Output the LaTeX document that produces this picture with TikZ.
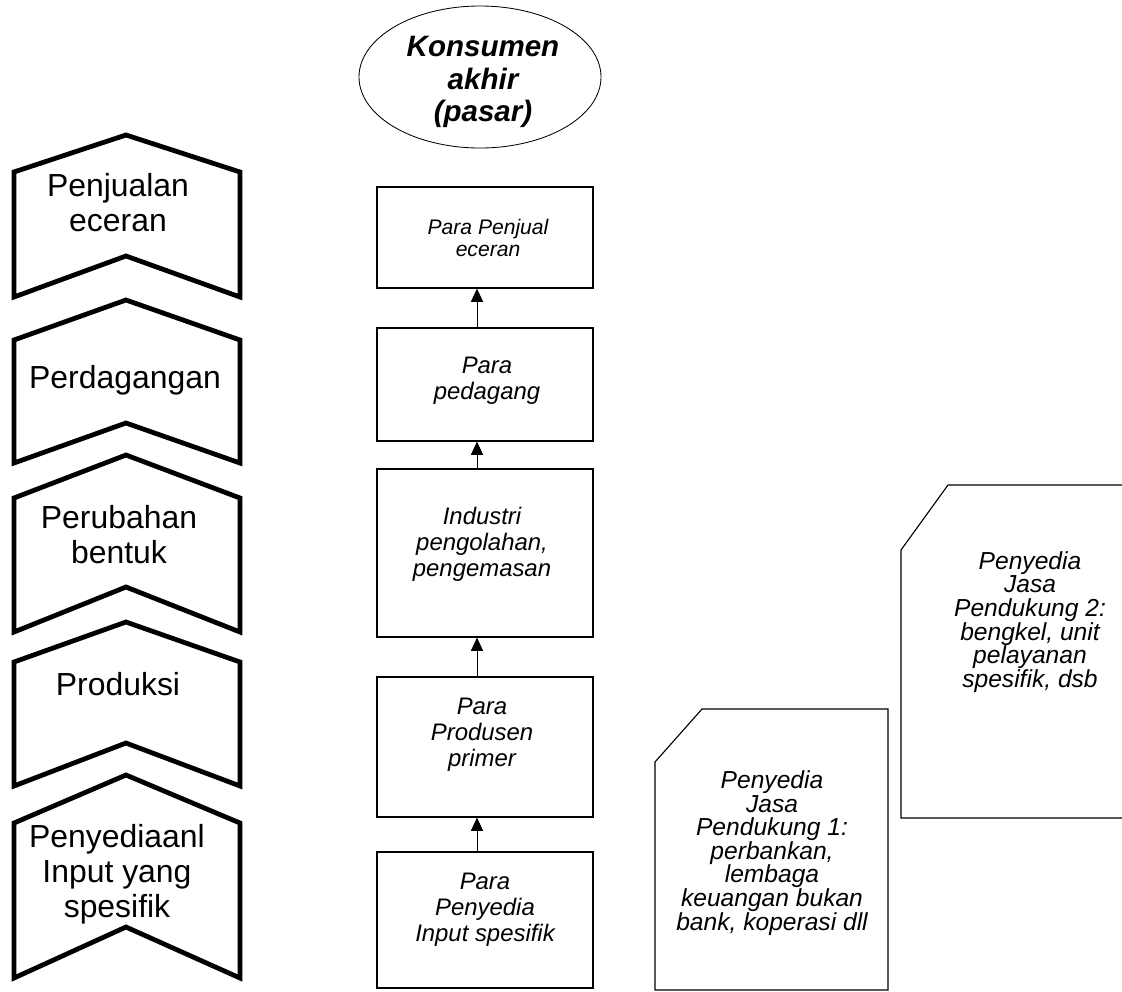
\documentclass[tikz,border=0pt]{standalone}
\usepackage{fontspec}
\setmainfont{Liberation Sans}
\usepackage{xcolor}
\usepackage{tikz}
\usetikzlibrary{shapes.geometric,arrows.meta}

\begin{document}
\begin{tikzpicture}[x=0.25mm,y=-0.25mm,
  chev/.style={line width=3.4pt, line join=miter},
  chevtext/.style={align=center, font=\fontsize{22.7}{24.8}\selectfont},
  flowbox/.style={draw, line width=0.8pt, minimum width=54mm},
  flowtext/.style={align=center, font=\fontsize{17}{18.5}\selectfont\itshape},
  jasabox/.style={line width=0.8pt},
  jasatext/.style={align=center, font=\fontsize{17.5}{16.8}\selectfont\itshape},
  uparrow/.style={-{Triangle[length=3.3mm,width=3mm]}, line width=0.7pt}]%
\useasboundingbox (0,0) rectangle (1122,991);%
\draw[chev] (14,172) -- (126,135) -- (240,172) -- (240,297) -- (126,256) -- (14,297) -- cycle;%
\node[chevtext] (penjualan) at (118,203) {Penjualan\\eceran};%
\draw[chev] (14,340) -- (126,300) -- (240,340) -- (240,463) -- (126,423) -- (14,463) -- cycle;%
\node[chevtext] (perdagangan) at (125,380) {Perdagangan};%
\draw[chev] (14,498) -- (126,455) -- (240,498) -- (240,632) -- (126,587) -- (14,632) -- cycle;%
\node[chevtext] (perubahan) at (119,535) {Perubahan\\bentuk};%
\draw[chev] (14,662) -- (126,622) -- (240,662) -- (240,786) -- (126,743) -- (14,786) -- cycle;%
\node[chevtext] (produksi) at (118,684) {Produksi};%
\draw[chev] (14,823) -- (126,775) -- (240,823) -- (240,978) -- (126,927) -- (14,978) -- cycle;%
\node[chevtext] (penyediaan) at (117,874) {Penyediaanl\\Input yang\\spesifik};%
\node[draw, ellipse, line width=0.6pt, minimum width=60.5mm, minimum height=35.5mm] (konsumen) at (480,77) {};%
\node[align=center, font=\fontsize{21}{23.4}\selectfont\bfseries\itshape] (konsumen-t) at (483,82) {Konsumen\\akhir\\(pasar)};%
\node[flowbox, minimum height=25.25mm] (eceran) at (485,237.5) {};%
\node[flowtext, font=\fontsize{15}{15}\selectfont\itshape] (eceran-t) at (488,238) {Para Penjual\\eceran};%
\node[flowbox, minimum height=28.25mm] (pedagang) at (485,384.5) {};%
\node[flowtext] (pedagang-t) at (487,381) {Para\\pedagang};%
\node[flowbox, minimum height=42mm] (industri) at (485,553) {};%
\node[flowtext] (industri-t) at (482,544) {Industri\\pengolahan,\\pengemasan};%
\node[flowbox, minimum height=35mm] (produsen) at (485,747) {};%
\node[flowtext] (produsen-t) at (482,735) {Para\\Produsen\\primer};%
\node[flowbox, minimum height=34mm] (input) at (485,920) {};%
\node[flowtext] (input-t) at (485,910) {Para\\Penyedia\\Input spesifik};%
\coordinate (ax) at (477,0);%
\draw[uparrow] (pedagang.north -| ax) -- (eceran.south -| ax);%
\draw[uparrow] (industri.north -| ax) -- (pedagang.south -| ax);%
\draw[uparrow] (produsen.north -| ax) -- (industri.south -| ax);%
\draw[uparrow] (input.north -| ax) -- (produsen.south -| ax);%
\draw[jasabox] (702,709) -- (888,709) -- (888,990) -- (655,990) -- (655,762) -- cycle;%
\node[jasatext] (jasa1) at (772,853) {Penyedia\\Jasa\\Pendukung 1:\\perbankan,\\lembaga\\keuangan bukan\\bank, koperasi dll};%
\draw[jasabox] (1122,485) -- (948,485) -- (901,550) -- (901,818) -- (1122,818);%
\node[jasatext] (jasa2) at (1030,622) {Penyedia\\Jasa\\Pendukung 2:\\bengkel, unit\\pelayanan\\spesifik, dsb};%
\end{tikzpicture}
\end{document}
